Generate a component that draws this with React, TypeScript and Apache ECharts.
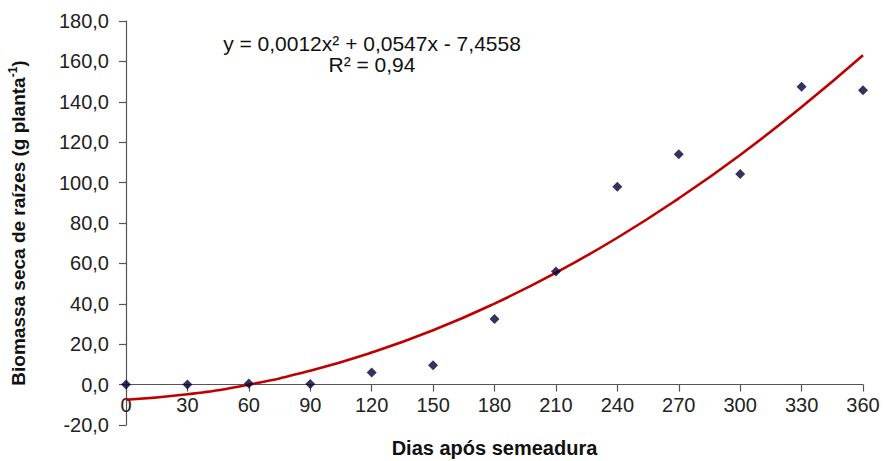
import React, { useEffect, useRef } from "react";
import * as echarts from "echarts";

const days = [0, 30, 60, 90, 120, 150, 180, 210, 240, 270, 300, 330, 360];
const biomass = [0, 0, 0.5, 0.3, 6, 9.6, 32.5, 56, 98, 114, 104.3, 147.4, 145.7];
const trendValues = [-7.5, -4.8, 0, 6.9, 15.9, 26.9, 40.1, 55.4, 72.7, 92.2, 113.7, 137.4, 163];
const equationLine1 = "y = 0,0012x² + 0,0547x - 7,4558";
const equationLine2 = "R² = 0,94";
const xTitle = "Dias após semeadura";

const FONT = "'Liberation Sans', Arial, sans-serif";
const Y_MIN = -20;
const Y_MAX = 180;
const GRID_TOP = 21;
const GRID_BOTTOM = 36;
const HEIGHT = 461;

export default function App() {
  const ref = useRef<HTMLDivElement>(null);
  useEffect(() => {
    if (!ref.current) return;
    const chart = echarts.init(ref.current, undefined, { renderer: "svg" });
    const gridH = HEIGHT - GRID_TOP - GRID_BOTTOM;
    const zeroOffset = -(gridH * (0 - Y_MIN)) / (Y_MAX - Y_MIN);
    chart.setOption({
      animation: false,
      backgroundColor: "#ffffff",
      grid: { left: 126, right: 20, top: GRID_TOP, bottom: GRID_BOTTOM, containLabel: false, outerBoundsMode: "none" },
      xAxis: {
        type: "value",
        position: "bottom",
        offset: zeroOffset,
        min: 0,
        max: 360,
        interval: 30,
        name: xTitle,
        nameLocation: "middle",
        nameGap: 53,
        nameTextStyle: { fontFamily: FONT, fontSize: 20, fontWeight: "bold", color: "#111" },
        axisLine: { show: true, onZero: false, lineStyle: { color: "#555", width: 1.2 } },
        axisTick: { show: true, length: 7, lineStyle: { color: "#555", width: 1.2 } },
        axisLabel: { margin: 10, fontFamily: FONT, fontSize: 20, color: "#222" },
        splitLine: { show: false },
      },
      yAxis: {
        type: "value",
        min: Y_MIN,
        max: Y_MAX,
        interval: 20,
        name: "{a|Biomassa seca de raízes (g planta}{s|-1}{a|)}",
        nameLocation: "middle",
        nameGap: 97,
        nameRotate: 90,
        nameTextStyle: {
          rich: {
            a: { fontFamily: FONT, fontSize: 19, fontWeight: "bold", color: "#111", lineHeight: 22 },
            s: { fontFamily: FONT, fontSize: 12, fontWeight: "bold", color: "#111", lineHeight: 12, verticalAlign: "top" },
          },
        },
        axisLine: { show: true, onZero: false, lineStyle: { color: "#555", width: 1.2 } },
        axisTick: { show: true, length: 7, lineStyle: { color: "#555", width: 1.2 } },
        axisLabel: {
          margin: 17,
          fontFamily: FONT,
          fontSize: 20,
          color: "#222",
          formatter: (v: number) => v.toFixed(1).replace(".", ","),
        },
        splitLine: { show: false },
      },
      graphic: [
        {
          type: "text",
          x: 372,
          y: 43,
          style: { text: equationLine1, fontFamily: FONT, fontSize: 21, fill: "#111", align: "center", verticalAlign: "middle" },
        },
        {
          type: "text",
          x: 372,
          y: 64,
          style: { text: equationLine2, fontFamily: FONT, fontSize: 21, fill: "#111", align: "center", verticalAlign: "middle" },
        },
      ],
      series: [
        {
          type: "line",
          data: days.map((d, i) => [d, trendValues[i]]),
          smooth: true,
          showSymbol: false,
          lineStyle: { color: "#c00000", width: 2.6 },
          z: 2,
        },
        {
          type: "scatter",
          data: days.map((d, i) => [d, biomass[i]]),
          symbol: "diamond",
          symbolSize: 10,
          itemStyle: { color: "#000033" },
          z: 3,
        },
      ],
    });
    return () => chart.dispose();
  }, []);
  return <div ref={ref} style={{ width: 883, height: 461, position: "absolute", left: 0, top: 0 }} />;
}
